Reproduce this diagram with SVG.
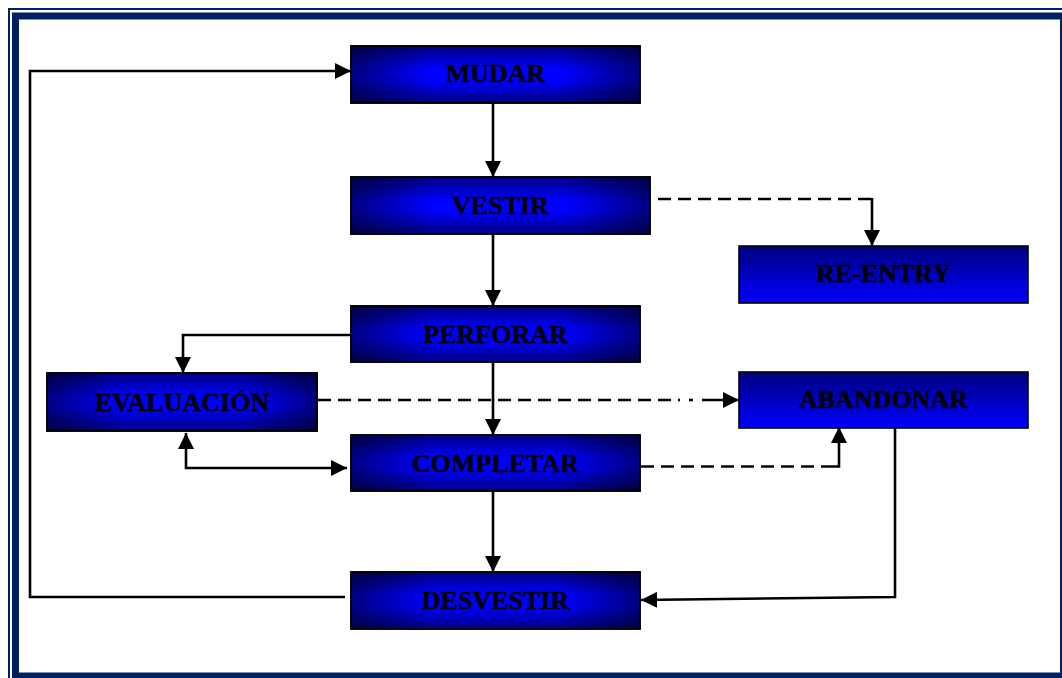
<svg xmlns="http://www.w3.org/2000/svg" width="1062" height="678" viewBox="0 0 1062 678">
  <style>
    .box { stroke: #000; stroke-width: 1.6; }
    .lbl { font-family: "Liberation Serif", "Times New Roman", serif; font-weight: bold; font-size: 26px; fill: #000; stroke: #000; stroke-width: 0.4; text-anchor: middle; }
    .wire { fill: none; stroke: #000; stroke-width: 2.6; stroke-linejoin: miter; }
    .dash { stroke-dasharray: 13 7; }
  </style>
  <defs>
    <!-- darkening toward the edges, stacked to give a rectangular glow -->
    <linearGradient id="shadeV" x1="0" y1="0" x2="0" y2="1">
      <stop offset="0" stop-color="#000" stop-opacity="0.5"/>
      <stop offset="0.4" stop-color="#000" stop-opacity="0"/>
      <stop offset="0.6" stop-color="#000" stop-opacity="0"/>
      <stop offset="1" stop-color="#000" stop-opacity="0.5"/>
    </linearGradient>
    <linearGradient id="shadeH" x1="0" y1="0" x2="1" y2="0">
      <stop offset="0" stop-color="#000" stop-opacity="0.5"/>
      <stop offset="0.28" stop-color="#000" stop-opacity="0"/>
      <stop offset="0.72" stop-color="#000" stop-opacity="0"/>
      <stop offset="1" stop-color="#000" stop-opacity="0.5"/>
    </linearGradient>
    <!-- top-to-bottom fill for the side outcomes -->
    <linearGradient id="fade" x1="0" y1="0" x2="0" y2="1">
      <stop offset="0" stop-color="#000080"/>
      <stop offset="1" stop-color="#0000ff"/>
    </linearGradient>
    <marker id="arrow" markerUnits="userSpaceOnUse" markerWidth="16" markerHeight="16" refX="16" refY="8" orient="auto">
      <path d="M0,0 L16,8 L0,16 z" fill="#000"/>
    </marker>
    <marker id="arrowStart" markerUnits="userSpaceOnUse" markerWidth="16" markerHeight="16" refX="0" refY="8" orient="auto">
      <path d="M16,0 L0,8 L16,16 z" fill="#000"/>
    </marker>
  </defs>

  <rect width="1062" height="678" fill="#fff"/>

  <!-- page frame -->
  <g id="frame" fill="none" stroke="#00215f">
    <rect x="9" y="9" width="1070" height="680" stroke-width="2"/>
    <rect x="15.5" y="16" width="1048" height="660" stroke-width="7"/>
  </g>

  <!-- connectors -->
  <g id="connectors">
    <polyline class="wire" points="345,597 30,597 30,71 351,71" marker-end="url(#arrow)"/>
    <line class="wire" x1="493" y1="103" x2="493" y2="177" marker-end="url(#arrow)"/>
    <line class="wire" x1="493" y1="234" x2="493" y2="306" marker-end="url(#arrow)"/>
    <line class="wire" x1="493" y1="362" x2="493" y2="435" marker-end="url(#arrow)"/>
    <line class="wire" x1="493" y1="491" x2="493" y2="572" marker-end="url(#arrow)"/>
    <polyline class="wire dash" points="658,199 872,199"/>
    <line class="wire" x1="872" y1="198" x2="872" y2="246" marker-end="url(#arrow)"/>
    <polyline class="wire" points="351,335 183,335 183,373" marker-end="url(#arrow)"/>
    <polyline class="wire" points="186,433 186,468 347,468" marker-start="url(#arrowStart)" marker-end="url(#arrow)"/>
    <line class="wire dash" x1="318" y1="400" x2="680" y2="400"/>
    <line class="wire" x1="689" y1="400" x2="693" y2="400"/>
    <line class="wire" x1="702" y1="400" x2="739" y2="400" marker-end="url(#arrow)"/>
    <polyline class="wire dash" points="641,466.5 834,466.5"/>
    <polyline class="wire" points="834,466.5 839,466.5 839,427" marker-end="url(#arrow)"/>
    <polyline class="wire" points="895,428 895,597 641,600" marker-end="url(#arrow)"/>
  </g>

  <!-- nodes -->
  <g id="mudar">
    <rect class="box" x="351" y="46" width="289" height="57" fill="#0000ff"/>
    <rect x="351" y="46" width="289" height="57" fill="url(#shadeV)"/>
    <rect class="box" x="351" y="46" width="289" height="57" fill="url(#shadeH)"/>
    <text class="lbl" x="495.5" y="82">MUDAR</text>
  </g>
  <g id="vestir">
    <rect class="box" x="351" y="177" width="299" height="57" fill="#0000ff"/>
    <rect x="351" y="177" width="299" height="57" fill="url(#shadeV)"/>
    <rect class="box" x="351" y="177" width="299" height="57" fill="url(#shadeH)"/>
    <text class="lbl" x="500.5" y="214">VESTIR</text>
  </g>
  <g id="re-entry">
    <rect class="box" x="739" y="246" width="289" height="57" fill="url(#fade)"/>
    <text class="lbl" x="883.5" y="282">RE-ENTRY</text>
  </g>
  <g id="perforar">
    <rect class="box" x="351" y="306" width="289" height="56" fill="#0000ff"/>
    <rect x="351" y="306" width="289" height="56" fill="url(#shadeV)"/>
    <rect class="box" x="351" y="306" width="289" height="56" fill="url(#shadeH)"/>
    <text class="lbl" x="495.5" y="343">PERFORAR</text>
  </g>
  <g id="evaluacion">
    <rect class="box" x="47" y="373" width="270" height="58" fill="#0000ff"/>
    <rect x="47" y="373" width="270" height="58" fill="url(#shadeV)"/>
    <rect class="box" x="47" y="373" width="270" height="58" fill="url(#shadeH)"/>
    <text class="lbl" x="182" y="411">EVALUACIÓN</text>
  </g>
  <g id="abandonar">
    <rect class="box" x="739" y="372" width="289" height="56" fill="url(#fade)"/>
    <text class="lbl" x="883.5" y="408">ABANDONAR</text>
  </g>
  <g id="completar">
    <rect class="box" x="351" y="435" width="289" height="56" fill="#0000ff"/>
    <rect x="351" y="435" width="289" height="56" fill="url(#shadeV)"/>
    <rect class="box" x="351" y="435" width="289" height="56" fill="url(#shadeH)"/>
    <text class="lbl" x="495.5" y="472">COMPLETAR</text>
  </g>
  <g id="desvestir">
    <rect class="box" x="351" y="572" width="289" height="57" fill="#0000ff"/>
    <rect x="351" y="572" width="289" height="57" fill="url(#shadeV)"/>
    <rect class="box" x="351" y="572" width="289" height="57" fill="url(#shadeH)"/>
    <text class="lbl" x="495.5" y="609">DESVESTIR</text>
  </g>
</svg>
